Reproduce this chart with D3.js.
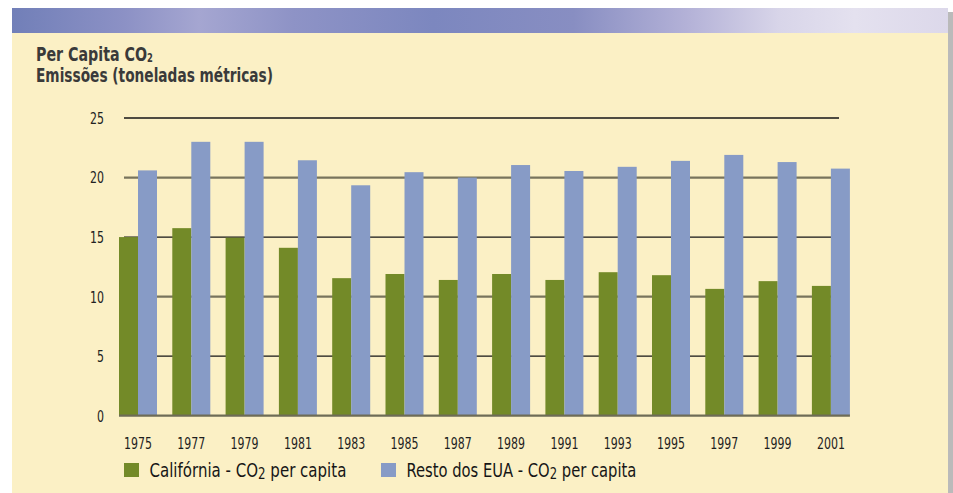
<!DOCTYPE html>
<html>
<head>
<meta charset="utf-8">
<script src="https://cdn.jsdelivr.net/npm/d3@7"></script>
<style>
  html, body { margin: 0; padding: 0; background: #ffffff; }
  svg { display: block; }
</style>
</head>
<body>
<svg id="chart" width="953" height="493"></svg>
<script>
// ---- data ----
const years = ["1975","1977","1979","1981","1983","1985","1987","1989","1991","1993","1995","1997","1999","2001"];
const california = [15.0, 15.75, 14.95, 14.1, 11.55, 11.9, 11.4, 11.9, 11.4, 12.05, 11.8, 10.65, 11.3, 10.9];
const restoEUA = [20.6, 23.0, 23.0, 21.45, 19.35, 20.45, 20.0, 21.05, 20.55, 20.9, 21.4, 21.9, 21.3, 20.75];
const yTicks = [0, 5, 10, 15, 20, 25];
const seriesNames = ["California", "Resto"];
const legendLabels = [["Califórnia - CO", "2", " per capita"], ["Resto dos EUA - CO", "2", " per capita"]];

// ---- styling ----
const FONT = "'Liberation Sans Narrow', 'Arial Narrow', 'DejaVu Sans Condensed', sans-serif";
const GREEN = "#738a28";
const BLUE = "#879bc6";
const BG = "#fbf0c5";

const svg = d3.select("#chart");

// squeeze text horizontally so its width matches a target (font fallback safety)
function fitWidth(sel, target, anchorX) {
  const w = sel.node().getBBox().width;
  if (w > 0) {
    const s = target / w;
    sel.attr("transform", `translate(${anchorX},0) scale(${s},1) translate(${-anchorX},0)`);
  }
}
// squeeze tick labels to a per-character width
function fitTicks(sel, perChar) {
  sel.each(function () {
    const w = this.getBBox().width;
    const n = this.textContent.length;
    if (w > 0) d3.select(this).attr("transform", `scale(${(perChar * n) / w},1)`);
  });
}

// ---- panel ----
svg.append("rect").attr("x", 948).attr("y", 12).attr("width", 5).attr("height", 481).attr("fill", "#bababa");
svg.append("rect").attr("x", 12).attr("y", 8).attr("width", 936).attr("height", 485).attr("fill", BG);

const defs = svg.append("defs");
const grad = defs.append("linearGradient").attr("id", "banner").attr("x1", "0").attr("x2", "1").attr("y1", "0").attr("y2", "0");
[[0, "#717fb8"], [0.12, "#8c91c5"], [0.2, "#a5a6d1"], [0.3, "#8e93c6"], [0.45, "#7c87bf"], [0.6, "#888ec2"],
 [0.72, "#b3b1d7"], [0.82, "#d8d5e9"], [0.9, "#e4e1ef"], [1, "#dcd8ea"]]
  .forEach(([o, c]) => grad.append("stop").attr("offset", o).attr("stop-color", c));
svg.append("rect").attr("x", 12).attr("y", 8).attr("width", 936).attr("height", 25).attr("fill", "url(#banner)");

// ---- title ----
const t1 = svg.append("text").attr("x", 36).attr("y", 61)
  .attr("font-family", FONT).attr("font-weight", "bold").attr("font-size", 19.5).attr("fill", "#3a3a3a");
t1.append("tspan").text("Per Capita CO");
t1.append("tspan").attr("font-size", 11.5).attr("dy", 1).text("2");
fitWidth(t1, 117, 36);

const t2 = svg.append("text").attr("x", 36).attr("y", 82)
  .attr("font-family", FONT).attr("font-weight", "bold").attr("font-size", 19.5).attr("fill", "#3a3a3a")
  .text("Emissões (toneladas métricas)");
fitWidth(t2, 237, 36);

// ---- scales ----
const x = d3.scaleBand().domain(years).range([111.35, 857.55]).paddingInner(0.287).paddingOuter(0.1435);
const xs = d3.scaleBand().domain(seriesNames).range([0, x.bandwidth()]);
const y = d3.scaleLinear().domain([0, 25]).range([415.7, 118]);

// ---- gridlines ----
const grid = svg.append("g");
yTicks.filter(v => v > 0).forEach(v => {
  const dark = (v / 5) % 2 === 1; // 5, 15, 25 black; 10, 20 grey
  grid.append("line")
    .attr("x1", 124).attr("x2", 839)
    .attr("y1", y(v)).attr("y2", y(v))
    .attr("stroke", dark ? "#141414" : "#78745c")
    .attr("stroke-width", dark ? 1.4 : 2.2);
});

// ---- bars ----
const groups = svg.append("g").selectAll("g").data(years).join("g")
  .attr("transform", d => `translate(${x(d)},0)`);
groups.append("rect")
  .attr("x", xs("California")).attr("width", xs.bandwidth())
  .attr("y", (d, i) => y(california[i])).attr("height", (d, i) => y(0) - y(california[i]))
  .attr("fill", GREEN);
groups.append("rect")
  .attr("x", xs("Resto")).attr("width", xs.bandwidth())
  .attr("y", (d, i) => y(restoEUA[i])).attr("height", (d, i) => y(0) - y(restoEUA[i]))
  .attr("fill", BLUE);

// baseline
svg.append("line")
  .attr("x1", x.range()[0] + x.step() * x.paddingOuter()).attr("x2", x(years[years.length - 1]) + x.bandwidth())
  .attr("y1", y(0)).attr("y2", y(0))
  .attr("stroke", "#6e6c56").attr("stroke-width", 2.2);

// ---- y axis labels ----
const yAxis = svg.append("g").attr("transform", "translate(104,0)")
  .call(d3.axisLeft(y).tickValues(yTicks).tickSize(0).tickPadding(0));
yAxis.select(".domain").remove();
yAxis.selectAll("text").attr("font-family", FONT).attr("font-size", 15).attr("fill", "#222").attr("dy", "0.36em");
fitTicks(yAxis.selectAll("text"), 7.0);

// ---- x axis labels ----
const xAxis = svg.append("g").attr("transform", "translate(0,448.5)")
  .call(d3.axisBottom(x).tickSize(0).tickPadding(0));
xAxis.select(".domain").remove();
xAxis.selectAll("text").attr("font-family", FONT).attr("font-size", 15).attr("fill", "#1e1e1e").attr("dy", 0).attr("y", 0);
fitTicks(xAxis.selectAll("text"), 7.0);

// ---- legend ----
const legendX = [124, 381];
const legendW = [197, 230];
const legendColors = [GREEN, BLUE];
legendLabels.forEach((parts, i) => {
  svg.append("rect").attr("x", legendX[i]).attr("y", 463).attr("width", 15).attr("height", 14).attr("fill", legendColors[i]);
  const tx = legendX[i] + 25.5;
  const t = svg.append("text").attr("x", tx).attr("y", 477)
    .attr("font-family", FONT).attr("font-size", 19).attr("fill", "#161616");
  t.append("tspan").text(parts[0]);
  t.append("tspan").attr("font-size", 15).attr("dy", 2).text(parts[1]);
  t.append("tspan").attr("dy", -2).text(parts[2]);
  fitWidth(t, legendW[i], tx);
});
</script>
</body>
</html>
